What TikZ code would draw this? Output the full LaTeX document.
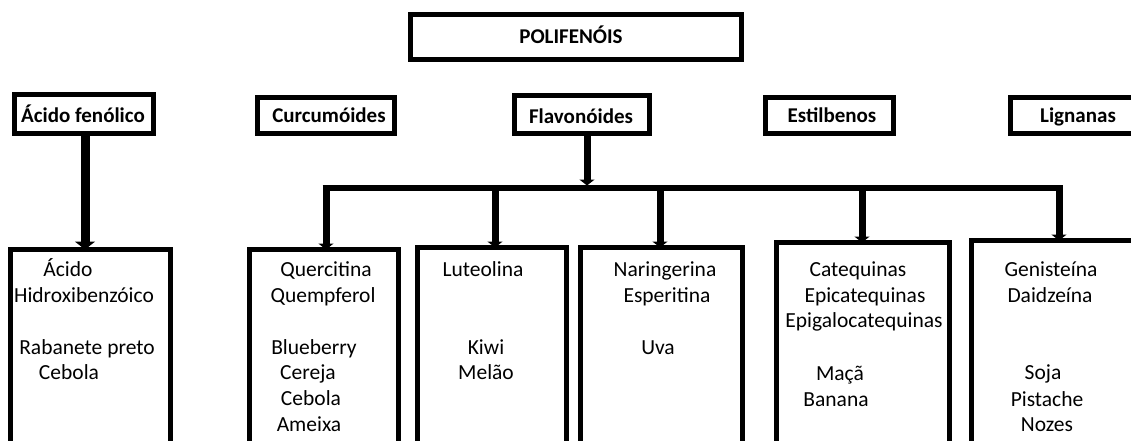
\documentclass[tikz,border=0pt]{standalone}
\usepackage{fontspec}
\setmainfont{Carlito}
\usetikzlibrary{arrows.meta,fit}
\begin{document}
\begin{tikzpicture}[x=1pt,y=-1pt,
  box/.style={draw=black, line width=5pt, inner sep=0pt, outer sep=0pt, fill=white},
  lbl/.style={font=\fontsize{21.5}{25}\selectfont, inner sep=0pt, anchor=base},
  hlbl/.style={inner sep=0pt, anchor=base, font=\fontsize{21}{25}\selectfont\bfseries},
  drop/.style={line width=7pt, -{Triangle[width=15pt,length=6pt]}},
  bigdrop/.style={line width=9pt, -{Triangle[width=20pt,length=8pt]}},
  bar/.style={line width=6pt}]
\useasboundingbox (0,0) rectangle (1131,441);
\clip (0,0) rectangle (1131,441);

% header boxes
\node[box, fit={(410.5,14.5) (741.5,59.5)}] (pol) {};
\node[box, fit={(14.5,94.5) (153.5,133.5)}] (acf) {};
\node[box, fit={(257.5,97.5) (394.5,133.5)}] (cur) {};
\node[box, fit={(514.5,95.5) (649.5,133.5)}] (fla) {};
\node[box, fit={(765.5,97.5) (893.5,133.5)}] (est) {};
\node[box, fit={(1010.5,97.5) (1140,133.5)}] (lig) {};

% bottom boxes
\node[box, fit={(10.5,249.5) (170.5,500)}] (b1) {};
\node[box, fit={(249.5,249.5) (398.5,500)}] (b2) {};
\node[box, fit={(417.5,247.5) (566.5,500)}] (b3) {};
\node[box, fit={(580.5,247.5) (742.5,500)}] (b4) {};
\node[box, fit={(776.5,242.5) (949.5,500)}] (b5) {};
\node[box, fit={(971.5,240.5) (1140,500)}] (b6) {};

% header labels
\node[hlbl] (tpol) at (571,44) {POLIFENÓIS};
\node[hlbl] (tacf) at (83,122) {Ácido fenólico};
\node[hlbl] (tcur) at (329,122) {Curcumóides};
\node[hlbl] (tfla) at (581,123) {Flavonóides};
\node[hlbl] (test) at (832,122) {Estilbenos};
\node[hlbl] (tlig) at (1078,122) {Lignanas};

% box contents
\node[lbl] (a1) at (68,276) {Ácido};
\node[lbl] (a2) at (84,302) {Hidroxibenzóico};
\node[lbl] (a3) at (87,354) {Rabanete preto};
\node[lbl] (a4) at (69,379) {Cebola};

\node[lbl] (q1) at (326,276) {Quercitina};
\node[lbl] (q2) at (323,302) {Quempferol};
\node[lbl] (q3) at (314,354) {Blueberry};
\node[lbl] (q4) at (308,379) {Cereja};
\node[lbl] (q5) at (311,405) {Cebola};
\node[lbl] (q6) at (309,431) {Ameixa};

\node[lbl] (l1) at (483,276) {Luteolina};
\node[lbl] (l2) at (486,354) {Kiwi};
\node[lbl] (l3) at (486,379) {Melão};

\node[lbl] (n1) at (665,276) {Naringerina};
\node[lbl] (n2) at (667,302) {Esperitina};
\node[lbl] (n3) at (658,354) {Uva};

\node[lbl] (c1) at (858,276) {Catequinas};
\node[lbl] (c2) at (865,302) {Epicatequinas};
\node[lbl] (c3) at (864,327) {Epigalocatequinas};
\node[lbl] (c4) at (840,380) {Maçã};
\node[lbl] (c5) at (836,406) {Banana};

\node[lbl] (g1) at (1051,276) {Genisteína};
\node[lbl] (g2) at (1050,302) {Daidzeína};
\node[lbl] (g3) at (1043,379) {Soja};
\node[lbl] (g4) at (1047,406) {Pistache};
\node[lbl] (g5) at (1047,431) {Nozes};

% connectors
\coordinate (ac) at (85,133.5);
\draw[bigdrop] (ac) -- (ac |- b1.north);

\coordinate (fj) at (587,133.5);
\coordinate (fjend) at (587,185.5);
\draw[drop] (fj) -- (fjend);

\coordinate (barL) at (322.5,188);
\coordinate (barR) at (1062.5,188);
\draw[bar] (barL) -- (barR);

\coordinate (d2) at (326,185);
\coordinate (d3) at (495,185);
\coordinate (d4) at (660,185);
\coordinate (d5) at (862,185);
\coordinate (d6) at (1059,185);
\draw[drop] (d2) -- (d2 |- b2.north);
\draw[drop] (d3) -- (d3 |- b3.north);
\draw[drop] (d4) -- (d4 |- b4.north);
\draw[drop] (d5) -- (d5 |- b5.north);
\draw[drop] (d6) -- (d6 |- b6.north);
\end{tikzpicture}
\end{document}
